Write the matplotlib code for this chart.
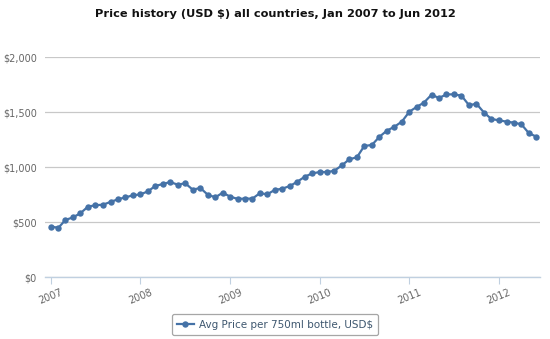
import matplotlib
matplotlib.use("Agg")
import matplotlib.pyplot as plt
import matplotlib.dates as mdates
import pandas as pd
from matplotlib.ticker import FuncFormatter, MultipleLocator
from matplotlib.lines import Line2D

title = "Price history (USD $) all countries, Jan 2007 to Jun 2012"
series_name = "Avg Price per 750ml bottle, USD$"
months = pd.date_range("2007-01-01", periods=66, freq="MS")
prices = [460, 451, 521, 545, 582, 642, 655, 660, 685, 709, 727, 745,
          754, 782, 830, 848, 866, 842, 855, 797, 812, 751, 727, 769,
          733, 712, 716, 715, 764, 755, 794, 806, 830, 869, 915, 945,
          957, 957, 969, 1018, 1073, 1091, 1194, 1203, 1278, 1333, 1369, 1415,
          1506, 1551, 1588, 1660, 1630, 1663, 1663, 1651, 1564, 1578, 1497, 1439,
          1427, 1415, 1406, 1391, 1312, 1278]

line_color = "#4572A7"

fig = plt.figure(figsize=(5.5, 3.39), dpi=100)
ax = fig.add_axes([45/550, 1-277.3/339, (540-45)/550, 220/339])

ax.plot(months, prices, color=line_color, lw=1.6, marker="o", ms=4.6,
        markeredgewidth=0, zorder=3, clip_on=False)

ax.set_ylim(0, 2000)
ax.yaxis.set_major_locator(MultipleLocator(500))
ax.yaxis.set_major_formatter(FuncFormatter(lambda v, p: "${:,.0f}".format(v)))
left = pd.Timestamp("2006-12-01") + pd.Timedelta(days=7)
right = pd.Timestamp("2012-06-16")
ax.set_xlim(left, right)
ax.xaxis.set_major_locator(mdates.YearLocator())
ax.xaxis.set_major_formatter(mdates.DateFormatter("%Y"))

ax.grid(axis="y", color="#C8C8C8", lw=0.9)
ax.set_axisbelow(True)
for s in ["top", "right", "left"]:
    ax.spines[s].set_visible(False)
ax.spines["bottom"].set_color("#C0D0E0")
ax.spines["bottom"].set_linewidth(1.0)

ax.tick_params(axis="y", length=0, labelsize=7, labelcolor="#666666", pad=6)
ax.tick_params(axis="x", length=5, color="#C0D0E0", labelsize=7,
               labelcolor="#666666", pad=2)
for lbl in ax.get_xticklabels():
    lbl.set_rotation(22)
    lbl.set_ha("center")

fig.text(0.5, 1-14/339, title, ha="center", va="center", fontsize=8.2,
         fontweight="bold", color="#111111")

handle = Line2D([], [], color=line_color, lw=1.6, marker="o", ms=4.6,
                markeredgewidth=0)
leg = fig.legend([handle], [series_name], loc="center",
                 bbox_to_anchor=(275/550, 1-324.5/339), fontsize=7.5,
                 frameon=True, fancybox=True, handlelength=1.6,
                 handletextpad=0.5, borderpad=0.5, labelcolor="#3E576F")
leg.get_frame().set_edgecolor("#909090")
leg.get_frame().set_linewidth(0.9)

fig.savefig("out.png", dpi=100)
